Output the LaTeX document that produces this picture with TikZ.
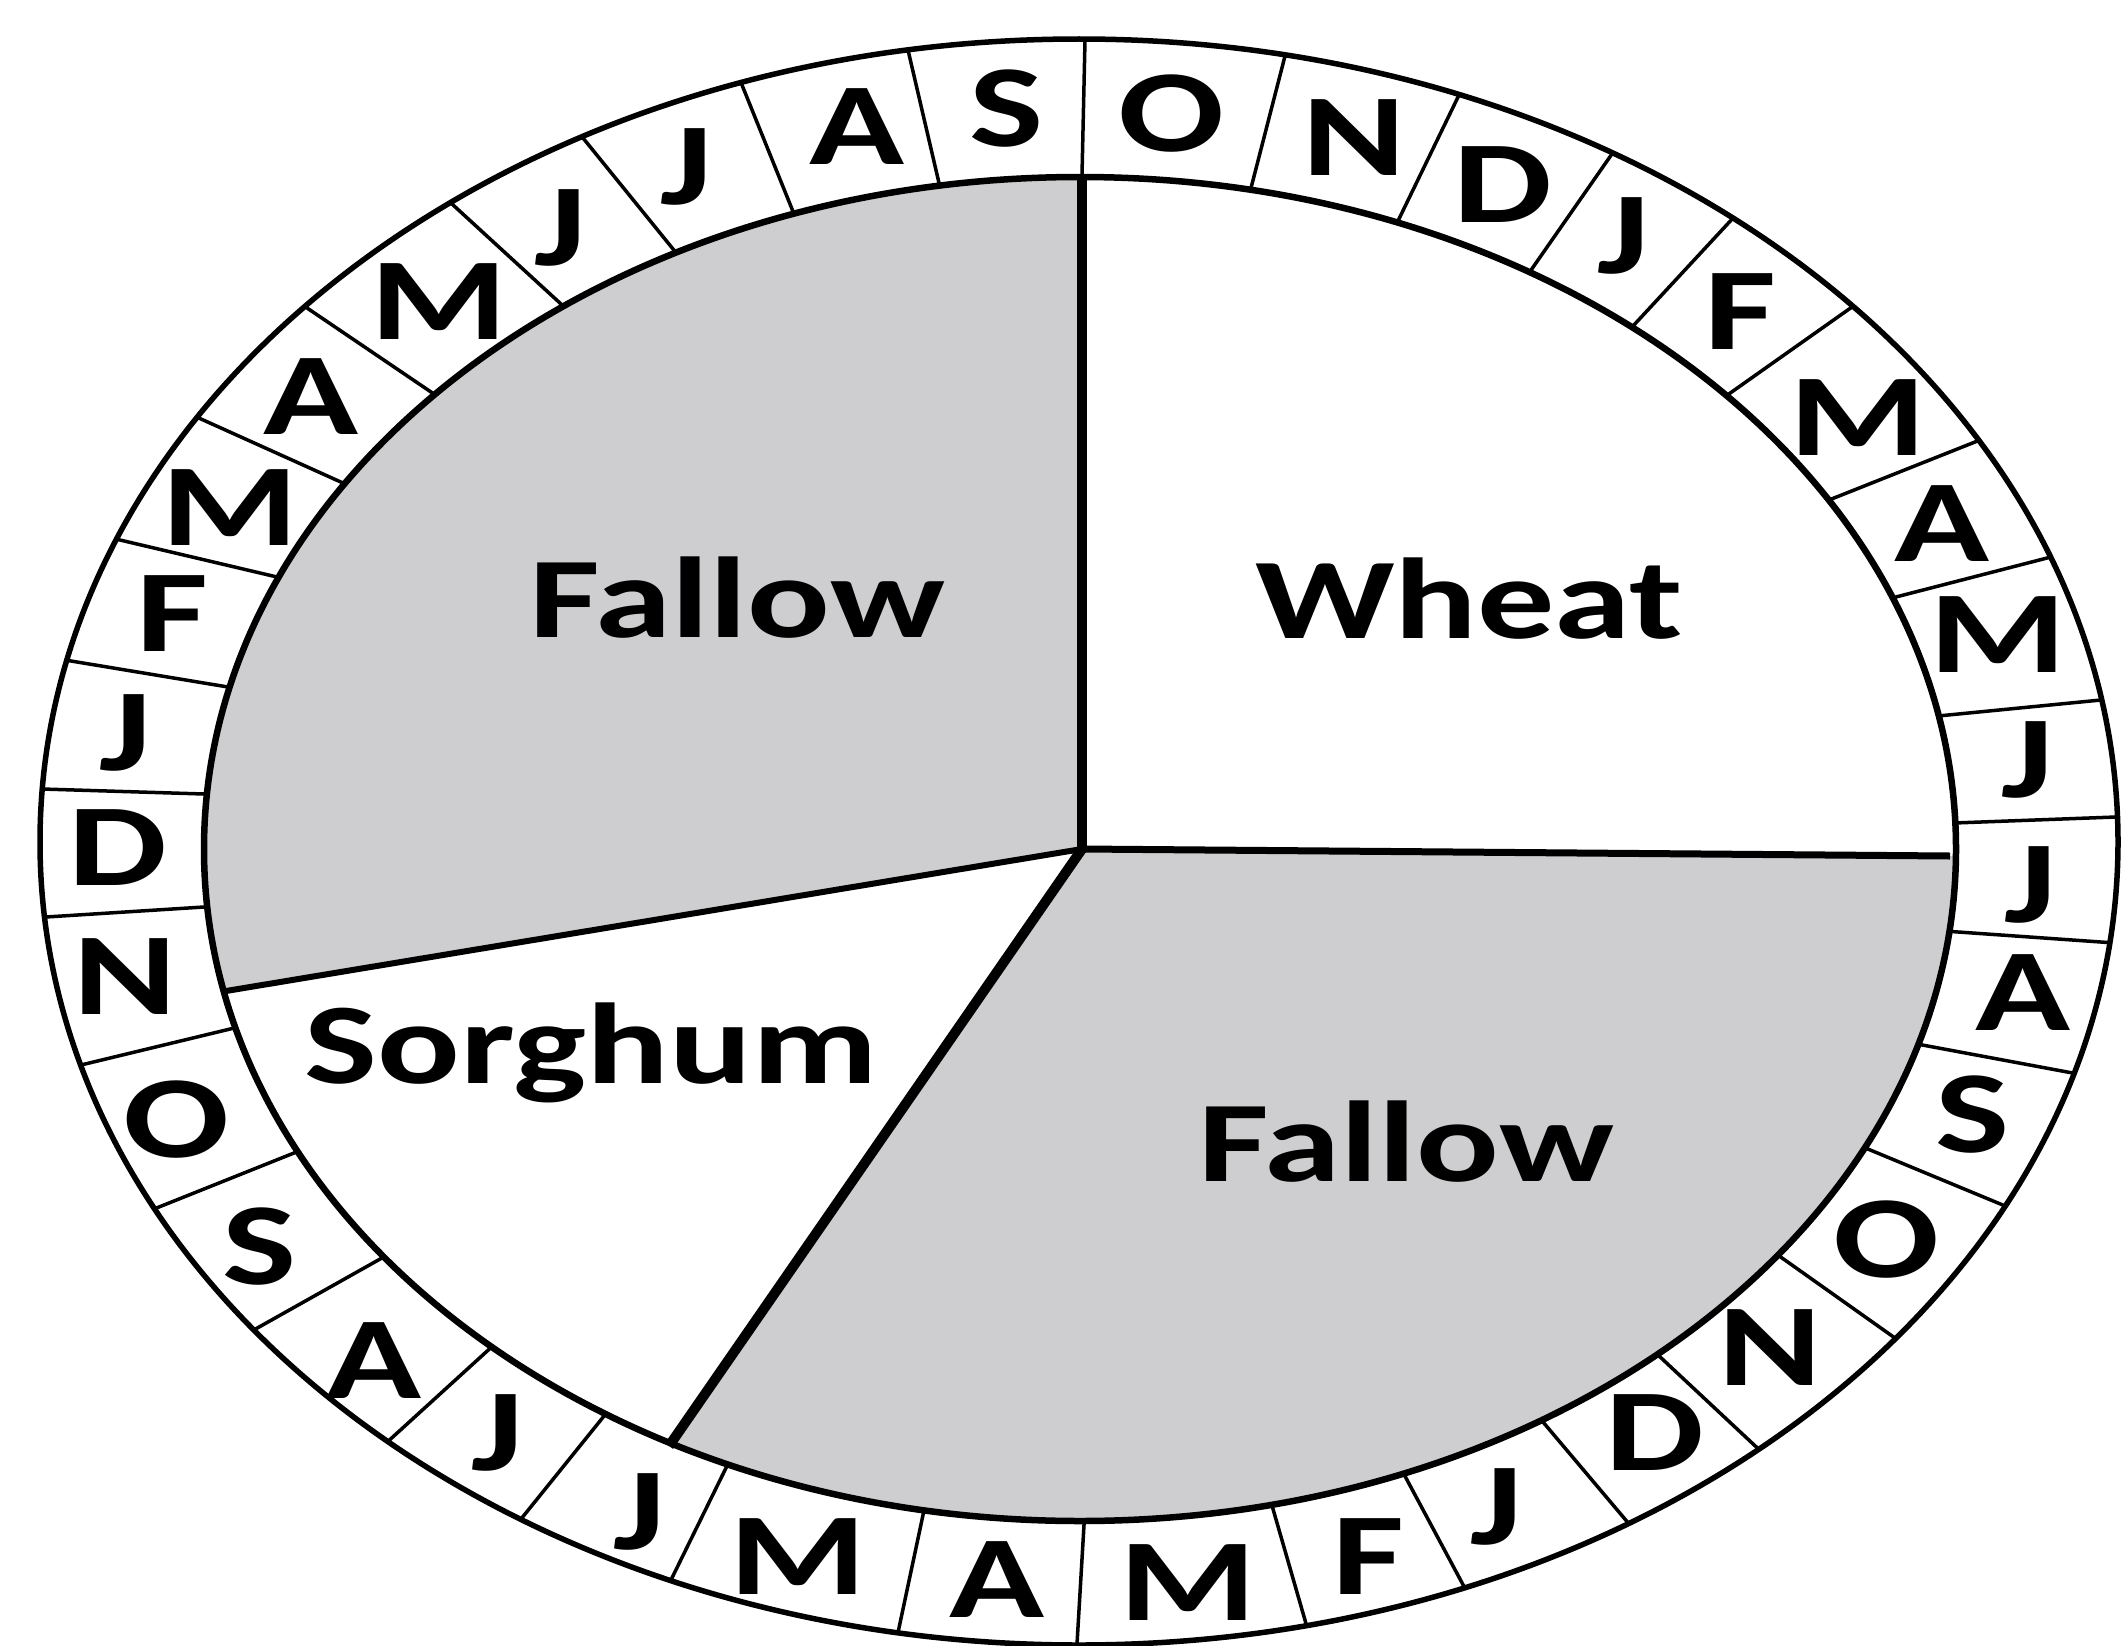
\documentclass[tikz,border=0pt]{standalone}
\usepackage{fontspec}
\newfontfamily\labfont[FakeStretch=1.34]{Carlito}
\usetikzlibrary{calc}
\definecolor{fallowgray}{RGB}{206,205,207}
\begin{document}
\begin{tikzpicture}[x=1pt,y=-1pt,
  month/.style={font=\labfont\bfseries\fontsize{117}{120}\selectfont, inner sep=0pt},
  crop/.style={font=\labfont\bfseries\fontsize{115}{120}\selectfont, inner sep=0pt, anchor=base},
  sepline/.style={line width=3.5pt},
  outerrim/.style={line width=5.5pt},
  innerrim/.style={line width=6.5pt}]
\useasboundingbox (0,0) rectangle (2121,1646);
\fill[white] (0,0) rectangle (2121,1646);
% ring separators
\begin{scope}
\clip (1079,842) ellipse[x radius=1039pt, y radius=803pt];
\foreach \ax/\ay/\bx/\by in {
 1082/175/1085/40, 1251/188/1285/56, 1397/223/1459/95, 1529/273/1614/151,
 1633/326/1734/217, 1726/396/1852/307, 1829/500/1980/440, 1892/598/2051/557,
 1938/716/2101/700, 1954/823/2116/817, 1944/931/2115/943, 1917/1044/2078/1074,
 1863/1147/2010/1208, 1775/1253/1902/1343, 1658/1355/1767/1457, 1543/1422/1635/1531,
 1406/1478/1468/1594, 1273/1509/1309/1634, 1084/1525/1077/1644, 923/1515/896/1642,
 725/1470/668/1586, 600/1421/517/1524, 485/1353/384/1445, 373/1263/252/1331,
 289/1155/154/1209, 226/1030/81/1065, 204/907/46/917, 204/794/42/789,
 228/687/71/661, 277/577/120/540, 343/483/201/419, 431/392/310/310,
 561/304/452/204, 673/249/583/138, 792/209/742/85, 939/183/908/50}
 \draw[sepline] ($(\ax,\ay)!-0.3!(\bx,\by)$) -- ($(\ax,\ay)!1.3!(\bx,\by)$);
\end{scope}
% inner disc
\fill[white] (1080,849) ellipse[x radius=876pt, y radius=672pt];
\begin{scope}
\clip (1082,849) -- (1082,-200) -- (-700,-200) -- (-630,1133) -- cycle;
\fill[fallowgray] (1080,849) ellipse[x radius=876pt, y radius=672pt];
\end{scope}
\begin{scope}
\clip (1082,849) -- (256,2043) -- (2300,2043) -- (2300,859) -- cycle;
\fill[fallowgray] (1080,849) ellipse[x radius=876pt, y radius=672pt];
\end{scope}
% sector boundaries
\coordinate (C) at (1082,849);
\coordinate (top) at (1082,177);
\coordinate (right) at (1950,856);
\coordinate (left) at (226,991);
\coordinate (low) at (669,1446);
\draw[line width=10pt] (C) -- (top);
\draw[line width=7pt] (C) -- (right);
\draw[line width=6pt] (C) -- (left);
\draw[line width=10pt] (C) -- (low);
% ellipses
\draw[innerrim] (1080,849) ellipse[x radius=876pt, y radius=672pt];
\draw[outerrim] (1079,842) ellipse[x radius=1039pt, y radius=803pt];
% crop labels
\node[crop] (fallowA) at (737,637) {Fallow};
\node[crop] (wheat) at (1469,638) {Wheat};
\node[crop] (fallowB) at (1406,1181) {Fallow};
\node[crop] (sorghum) at (591,1083) {Sorghum};
% month labels
\foreach \x/\y/\m [count=\i] in {
 1172/114/O, 1354/138/N, 1503/185/D, 1623/236/J, 1740/312/F, 1858/418/M,
 1942/524/A, 1998/635/M, 2027/760/J, 2030/885/J, 2023/993/A, 1973/1115/S,
 1886/1240/O, 1770/1348/N, 1655/1433/D, 1496/1507/J, 1368/1557/F, 1188/1583/M,
 997/1580/A, 798/1557/M, 639/1512/J, 497/1433/J, 374/1361/A, 260/1247/S,
 177/1120/O, 125/977/N, 118/848/D, 125/733/J, 172/614/F, 230/508/M,
 311/397/A, 439/302/M, 560/228/J, 686/167/J, 857/127/A, 1007/109/S}
 \node[month] (m\i) at (\x,\y) {\m};
\end{tikzpicture}
\end{document}
